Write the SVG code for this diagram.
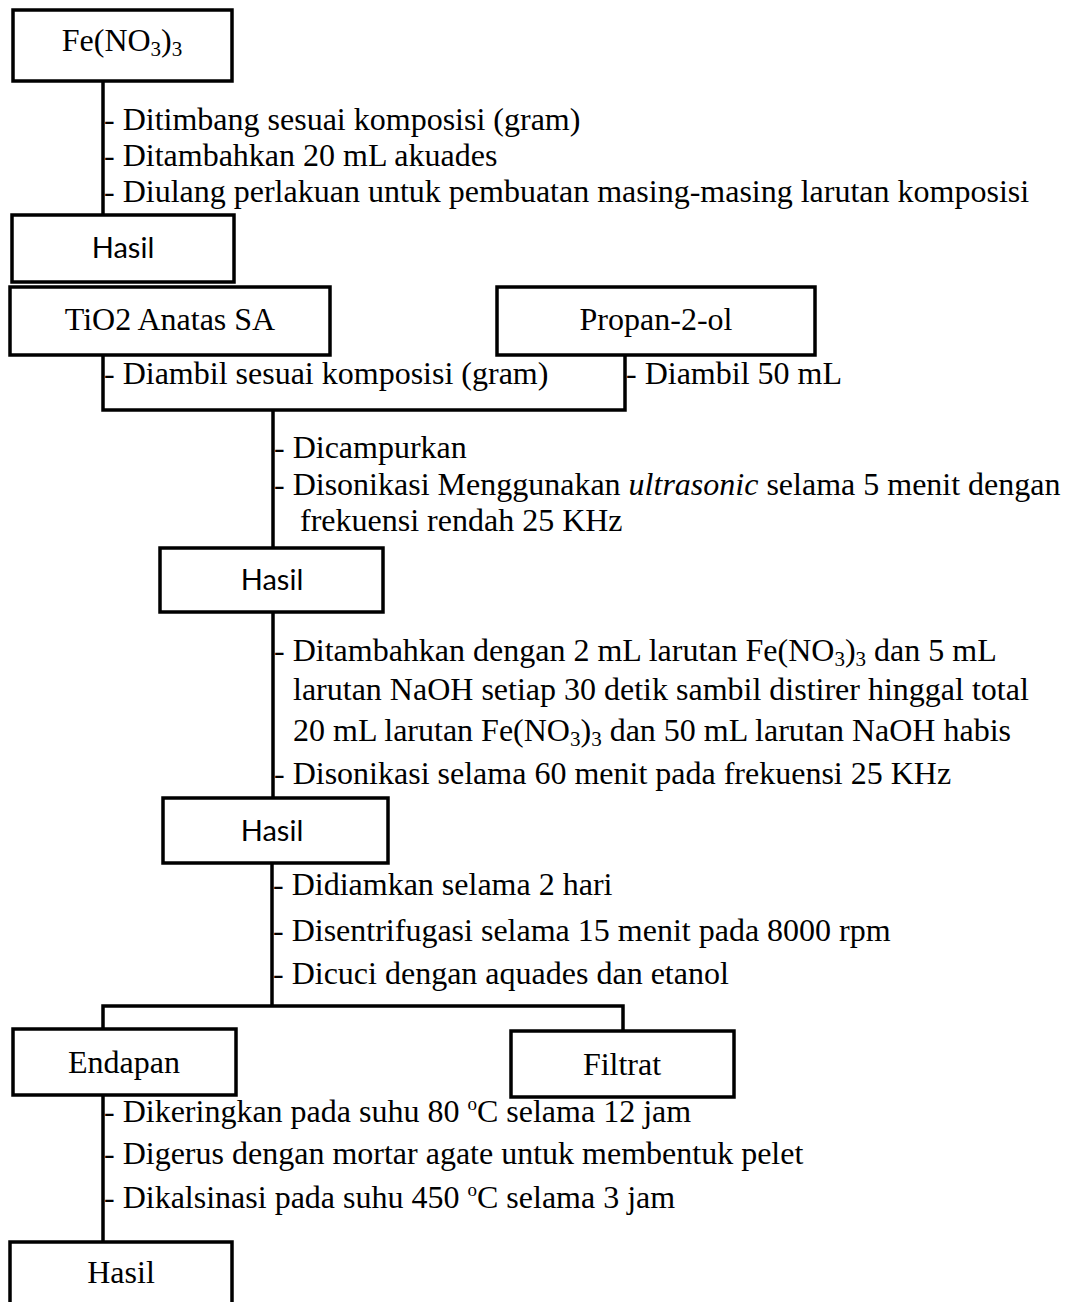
<svg xmlns="http://www.w3.org/2000/svg" width="1068" height="1302" viewBox="0 0 1068 1302">
<style>
.box{fill:#fff;stroke:#000;stroke-width:3.5}
.ln{fill:none;stroke:#000;stroke-width:3.5}
.t{font-family:"Liberation Serif","Times New Roman",serif;font-size:32px;fill:#000}
.c{font-family:Lato,"Open Sans",sans-serif;font-size:29px;fill:#000;text-anchor:middle}
.m{text-anchor:middle}
.sub{font-size:21px}
.sup{font-size:19px}
</style>
<rect width="1068" height="1302" fill="#fff"/>
<g id="connectors">
<path class="ln" d="M103 81V215"/>
<path class="ln" d="M103 355V410H625V355"/>
<path class="ln" d="M273 410V548"/>
<path class="ln" d="M273 612V798"/>
<path class="ln" d="M272 863V1006"/>
<path class="ln" d="M103 1029V1006H623V1031"/>
<path class="ln" d="M103 1095V1242"/>
</g>
<g id="n1"><rect class="box" x="13" y="10" width="219" height="71"/>
<text class="t m" x="122" y="51">Fe(NO<tspan class="sub" dy="5">3</tspan><tspan dy="-5">)</tspan><tspan class="sub" dy="5">3</tspan></text></g>
<g id="s1">
<text class="t" x="104" y="130">- Ditimbang sesuai komposisi (gram)</text>
<text class="t" x="104" y="166">- Ditambahkan 20 mL akuades</text>
<text class="t" x="104" y="202">- Diulang perlakuan untuk pembuatan masing-masing larutan komposisi</text>
</g>
<g id="n2"><rect class="box" x="12" y="215" width="222" height="67"/><text class="c" x="123" y="258">Hasil</text></g>
<g id="n3"><rect class="box" x="10" y="287" width="320" height="68"/><text class="t m" x="170" y="330">TiO2 Anatas SA</text></g>
<g id="n4"><rect class="box" x="497" y="287" width="318" height="68"/><text class="t m" x="656" y="330">Propan-2-ol</text></g>
<g id="s2">
<text class="t" x="104" y="384">- Diambil sesuai komposisi (gram)</text>
<text class="t" x="626" y="384">- Diambil 50 mL</text>
</g>
<g id="s3">
<text class="t" x="274" y="458">- Dicampurkan</text>
<text class="t" x="274" y="495">- Disonikasi Menggunakan <tspan font-style="italic">ultrasonic</tspan> selama 5 menit dengan</text>
<text class="t" x="300" y="531">frekuensi rendah 25 KHz</text>
</g>
<g id="n5"><rect class="box" x="160" y="548" width="223" height="64"/><text class="c" x="272" y="590">Hasil</text></g>
<g id="s4">
<text class="t" x="274" y="661">- Ditambahkan dengan 2 mL larutan Fe(NO<tspan class="sub" dy="5">3</tspan><tspan dy="-5">)</tspan><tspan class="sub" dy="5">3</tspan><tspan dy="-5"> dan 5 mL</tspan></text>
<text class="t" x="293" y="700">larutan NaOH setiap 30 detik sambil distirer hinggal total</text>
<text class="t" x="293" y="741">20 mL larutan Fe(NO<tspan class="sub" dy="5">3</tspan><tspan dy="-5">)</tspan><tspan class="sub" dy="5">3</tspan><tspan dy="-5"> dan 50 mL larutan NaOH habis</tspan></text>
<text class="t" x="274" y="784">- Disonikasi selama 60 menit pada frekuensi 25 KHz</text>
</g>
<g id="n6"><rect class="box" x="163" y="798" width="225" height="65"/><text class="c" x="272" y="841">Hasil</text></g>
<g id="s5">
<text class="t" x="273" y="895">- Didiamkan selama 2 hari</text>
<text class="t" x="273" y="941">- Disentrifugasi selama 15 menit pada 8000 rpm</text>
<text class="t" x="273" y="984">- Dicuci dengan aquades dan etanol</text>
</g>
<g id="n7"><rect class="box" x="13" y="1029" width="223" height="66"/><text class="t m" x="124" y="1073">Endapan</text></g>
<g id="n8"><rect class="box" x="511" y="1031" width="223" height="66"/><text class="t m" x="622" y="1075">Filtrat</text></g>
<g id="s6">
<text class="t" x="104" y="1122">- Dikeringkan pada suhu 80 <tspan class="sup" dy="-12">o</tspan><tspan dy="12">C selama 12 jam</tspan></text>
<text class="t" x="104" y="1164">- Digerus dengan mortar agate untuk membentuk pelet</text>
<text class="t" x="104" y="1208">- Dikalsinasi pada suhu 450 <tspan class="sup" dy="-12">o</tspan><tspan dy="12">C selama 3 jam</tspan></text>
</g>
<g id="n9"><rect class="box" x="10" y="1242" width="222" height="80"/><text class="t m" x="121" y="1283">Hasil</text></g>
</svg>
